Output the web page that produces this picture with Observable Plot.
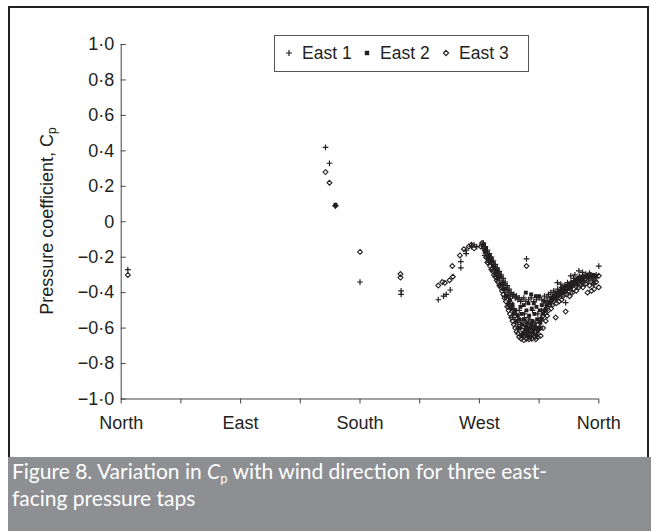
<!DOCTYPE html>
<html><head><meta charset="utf-8">
<script src="https://cdn.jsdelivr.net/npm/d3@7"></script>
<script src="https://cdn.jsdelivr.net/npm/@observablehq/plot@0.6"></script>
<style>
html,body{margin:0;padding:0;background:#fff;}
body{width:651px;height:531px;overflow:hidden;position:relative;font-family:"Liberation Sans",Arial,sans-serif;color:#231f20;}
#frame{position:absolute;left:8px;top:6px;width:641px;height:451px;box-sizing:border-box;border:2.5px solid #231f20;border-bottom:none;}
#chart{position:absolute;left:0;top:0;}
#ylabel{position:absolute;left:47px;top:221px;transform:translate(-50%,-50%) rotate(-90deg);white-space:nowrap;font-size:18px;line-height:22px;}
#ylabel sub{font-size:12px;vertical-align:-3px;line-height:0;}
#legend{position:absolute;left:274px;top:35px;width:255px;height:37px;box-sizing:border-box;border:1px solid #555;background:#fff;font-size:17.5px;}
#legend span{position:absolute;top:7px;line-height:20px;}
#legend svg{position:absolute;top:12px;}
#caption{position:absolute;left:8px;top:457px;width:643px;height:74px;background:#8e8f93;color:#fff;font-family:Lato,"Open Sans",sans-serif;font-size:21px;}
#caption div{position:absolute;left:4px;white-space:nowrap;}
#caption i{font-style:italic;}
#caption sub{font-size:13px;vertical-align:-4px;line-height:0;}
</style></head>
<body>
<div id="frame"></div>
<div id="chart"></div>
<div id="ylabel">Pressure coefficient, C<sub>p</sub></div>
<div id="legend"></div>
<div id="caption"></div>
<script>
// ---- data ----
const seriesNames = ["East 1", "East 2", "East 3"];
const dirDegrees = [0, 90, 180, 270, 360];
const dirLabels = ["North", "East", "South", "West", "North"];
const xTicks = [0, 45, 90, 135, 180, 225, 270, 315, 360];
const yTicks = [1.0, 0.8, 0.6, 0.4, 0.2, 0, -0.2, -0.4, -0.6, -0.8, -1.0];
const captionLine1 = "Figure 8. Variation in ";
const captionLine1b = " with wind direction for three east-";
const captionLine2 = "facing pressure taps";

// [wind direction (deg), Cp]
const east1 = [
[5,-0.27],
[154,0.42],[157,0.33],[161.5,0.09],
[180,-0.34],
[211,-0.39],[211,-0.41],
[239,-0.44],[243,-0.42],[245,-0.41],[248,-0.385],[256,-0.26],[256,-0.225],[260,-0.18],[260,-0.16],[264,-0.14],[266,-0.13],[268,-0.14],
[272,-0.13],[273,-0.12],[273.5,-0.15],[274.5,-0.14],[275,-0.17],[276,-0.16],[276.5,-0.19],[277.5,-0.18],[278,-0.21],[279,-0.2],[279.5,-0.23],[280.5,-0.22],[281,-0.25],[282,-0.24],[282.5,-0.27],[283.5,-0.26],[284,-0.29],[285,-0.28],[285.5,-0.31],[286.5,-0.3],[287,-0.33],[288,-0.32],[288.5,-0.35],[289.5,-0.34],[290,-0.37],[291,-0.36],[291.5,-0.39],[292.5,-0.38],[293,-0.41],[294,-0.4],[295,-0.42],[296,-0.41],[297,-0.43],[298,-0.42],[299,-0.44],[300,-0.43],[301,-0.45],[302,-0.44],[303.5,-0.43],[305,-0.45],[307,-0.44],[309,-0.43],[311,-0.45],[313,-0.44],[315,-0.43],
[289,-0.4],[293,-0.46],[296,-0.49],[298,-0.52],[300,-0.5],[302,-0.56],[304,-0.52],[306,-0.6],[308,-0.55],[310,-0.5],[312,-0.57],[314,-0.52],[305,-0.64],[310,-0.62],
[274,-0.19],[277,-0.23],[280,-0.27],[283,-0.31],[286,-0.36],[289,-0.42],[292,-0.48],[295,-0.54],[297,-0.57],[299,-0.6],[301,-0.58],[303,-0.65],[307,-0.65],[309,-0.6],[311,-0.63],[313,-0.6],[315,-0.56],[317,-0.5],[320,-0.47],[324,-0.45],[328,-0.44],[332,-0.42],[336,-0.4],[340,-0.39],[344,-0.36],[348,-0.35],[352,-0.34],[356,-0.35],
[305.5,-0.21],
[317,-0.44],[318.7,-0.446],[319,-0.42],[321,-0.43],[322,-0.41],[323.8,-0.4],[325,-0.42],[326,-0.39],[327,-0.41],[328.8,-0.343],[329,-0.38],[330,-0.4],[331.3,-0.352],[332,-0.37],[333,-0.39],[335,-0.456],[334,-0.36],[336.4,-0.343],[337,-0.37],[338.9,-0.305],[339,-0.34],[340,-0.36],[341,-0.32],[342,-0.3],[343,-0.34],[345,-0.277],[345.5,-0.31],[346,-0.33],[347.7,-0.286],[348,-0.31],[349,-0.33],[350.2,-0.296],[351,-0.32],[352.7,-0.315],[353,-0.29],[354,-0.3],[355,-0.33],[356.5,-0.315],[358,-0.3],[360,-0.25]
];
const east2 = [
[161.5,0.096],
[273.5,-0.13],[275,-0.15],[277,-0.19],[279,-0.22],[281,-0.26],[283,-0.28],[285,-0.31],[287,-0.35],[289,-0.38],[291,-0.42],[293,-0.44],[295,-0.47],[297,-0.5],[299,-0.53],
[274,-0.17],[276,-0.2],[278,-0.23],[280,-0.25],[282,-0.29],[284,-0.32],[286,-0.35],[288,-0.38],[290,-0.42],[292,-0.46],[294,-0.49],[296,-0.52],[298,-0.56],[299.5,-0.6],[301.5,-0.64],
[300,-0.55],[300.5,-0.6],[301,-0.48],[302,-0.52],[302.5,-0.58],[303,-0.63],[303.5,-0.47],[304,-0.55],[304.5,-0.61],[305,-0.4],[305.5,-0.5],[306,-0.57],[306.5,-0.64],[307,-0.46],[307.5,-0.53],[308,-0.6],[308.5,-0.65],[309,-0.41],[309.5,-0.49],[310,-0.56],[310.5,-0.62],[311,-0.46],[311.5,-0.52],[312,-0.59],[312.5,-0.42],[313,-0.48],[313.5,-0.55],[314,-0.62],[315,-0.42],[315.5,-0.5],[316,-0.57],[317,-0.47],[318,-0.52],[319,-0.45],[320,-0.49],
[303.5,-0.55],[305,-0.59],[307,-0.62],[309,-0.58],[311,-0.6],[313,-0.64],[315,-0.6],[317,-0.55],[319,-0.5],[321,-0.47],[323,-0.46],[325,-0.44],[327,-0.43],[329,-0.42],[331,-0.41],[333,-0.4],[335,-0.39],[337,-0.38],[339,-0.37],[341,-0.36],[343,-0.35],[345,-0.33],[347,-0.33],
[322,-0.45],[324,-0.43],[326,-0.42],[328,-0.4],[330,-0.39],[332,-0.38],[334,-0.37],[336,-0.36],[338,-0.35],[340,-0.34],[342,-0.33],[344,-0.32],[346,-0.31],[348,-0.31],[350,-0.31],[352,-0.3],[354,-0.31],[356,-0.3],[358,-0.31]
];
const east3 = [
[5,-0.3],
[154,0.28],[157,0.22],[161.5,0.09],
[180,-0.17],
[210.5,-0.295],[210.5,-0.315],
[239,-0.36],[242,-0.34],[244,-0.345],[247.5,-0.33],[250,-0.31],[249.6,-0.25],[255.3,-0.19],[258.3,-0.155],[262,-0.14],[264,-0.13],[266,-0.15],
[271,-0.14],[272,-0.12],[273,-0.14],[274,-0.16],[275,-0.2],[276,-0.23],[277,-0.22],[278,-0.25],[279,-0.27],[280,-0.28],[281,-0.3],[282,-0.31],[283,-0.33],[284,-0.34],[285,-0.36],[286,-0.37],[287,-0.39],[288,-0.41],[289,-0.43],[290,-0.45],[291,-0.48],[292,-0.5],[293,-0.52],[294,-0.54],[295,-0.56],[296,-0.58],[297,-0.6],[298,-0.62],[299,-0.63],[300,-0.65],
[278,-0.2],[280,-0.23],[283,-0.27],[285,-0.3],[288,-0.35],[290,-0.39],[292,-0.42],[294,-0.46],[296,-0.5],[298,-0.55],[300,-0.58],[302,-0.64],[304,-0.62],[306,-0.55],[308,-0.64],[310,-0.57],[312,-0.65],[314,-0.61],[316,-0.55],[318,-0.53],[320,-0.5],[323,-0.47],[326,-0.45],[329,-0.42],[332,-0.4],[335,-0.38],[338,-0.37],[341,-0.35],[344,-0.34],[347,-0.33],[350,-0.32],[353,-0.32],[356,-0.35],
[301.5,-0.66],[303.5,-0.668],[305.5,-0.66],[307.4,-0.663],[309.5,-0.66],[312.5,-0.663],[314,-0.65],[316.2,-0.644],[302,-0.61],[304,-0.58],[306,-0.62],[308,-0.59],[310,-0.63],[312,-0.6],[314,-0.58],[316,-0.6],[318,-0.6],[320,-0.56],[321,-0.53],
[305.5,-0.25],
[322,-0.5],[324,-0.49],[325,-0.47],[327.5,-0.54],[328,-0.46],[330,-0.45],[332,-0.44],[333,-0.42],[335,-0.507],[336,-0.41],[338,-0.42],[340,-0.4],[341,-0.38],[343,-0.39],[345,-0.37],[346,-0.36],[348,-0.37],[350,-0.35],[351.5,-0.4],[353,-0.36],[354.5,-0.39],[356.5,-0.38],[358,-0.34],[360,-0.37],[360,-0.305],[357,-0.33]
];

// ---- chart ----
const ink = "#231f20";
const fmtY = d => d === 0 ? "0" : (d < 0 ? "\u2212" : "") + Math.abs(d).toFixed(1).replace(".", "\u00b7");
const fmtX = d => { const i = dirDegrees.indexOf(d); return i >= 0 ? dirLabels[i] : ""; };

const chart = Plot.plot({
  width: 651, height: 457,
  marginLeft: 120.7, marginRight: 52.7, marginTop: 44, marginBottom: 58.5,
  x: {domain: [0, 360]},
  y: {domain: [-1, 1]},
  style: {fontFamily: "'Liberation Sans', Arial, sans-serif", fontSize: "18px", color: ink, background: "transparent", overflow: "visible"},
  marks: [
    Plot.ruleX([0], {stroke: "#444", strokeWidth: 1}),
    Plot.ruleY([-1], {stroke: "#444", strokeWidth: 1}),
    Plot.axisY({ticks: yTicks, tickSize: 0, tickPadding: 7, tickFormat: fmtY, label: null, fill: ink}),
    Plot.axisY({ticks: yTicks, tickSize: -5, fill: "none", label: null, stroke: "#444"}),
    Plot.axisX({ticks: xTicks, tickSize: 5, tickPadding: 12, tickFormat: fmtX, label: null, fill: ink, stroke: "#444"}),
    Plot.dot(east2, {x: d => d[0], y: d => d[1], symbol: "square", r: 2.2, fill: ink, stroke: "none"}),
    Plot.dot(east3, {x: d => d[0], y: d => d[1], symbol: "diamond2", r: 2.2, fill: "white", fillOpacity: 0, stroke: ink, strokeWidth: 1.1}),
    Plot.dot(east1, {x: d => d[0], y: d => d[1], symbol: "plus", r: 2, stroke: ink, strokeWidth: 1.2})
  ]
});
document.getElementById("chart").appendChild(chart);

// ---- legend ----
const legend = document.getElementById("legend");
const legendSymbols = [
  '<svg width="10" height="10" viewBox="-5 -5 10 10"><path d="M-3,0H3M0,-3V3" stroke="'+ink+'" stroke-width="1.2"/></svg>',
  '<svg width="10" height="10" viewBox="-5 -5 10 10"><rect x="-2.2" y="-2.2" width="4.4" height="4.4" fill="'+ink+'"/></svg>',
  '<svg width="10" height="10" viewBox="-5 -5 10 10"><path d="M0,-2.6L2.6,0L0,2.6L-2.6,0Z" fill="none" stroke="'+ink+'" stroke-width="1.1"/></svg>'
];
const symX = [9, 87, 166];
const txtX = [27, 105, 184];
seriesNames.forEach((name, i) => {
  legend.insertAdjacentHTML("beforeend", legendSymbols[i].replace("<svg", '<svg style="left:' + symX[i] + 'px"'));
  const s = document.createElement("span");
  s.style.left = txtX[i] + "px";
  s.textContent = name;
  legend.appendChild(s);
});

// ---- caption ----
const cap = document.getElementById("caption");
cap.innerHTML = '<div style="top:1px">' + captionLine1 + '<i>C</i><sub>p</sub>' + captionLine1b + '</div><div style="top:28px">' + captionLine2 + '</div>';
</script>
</body></html>
